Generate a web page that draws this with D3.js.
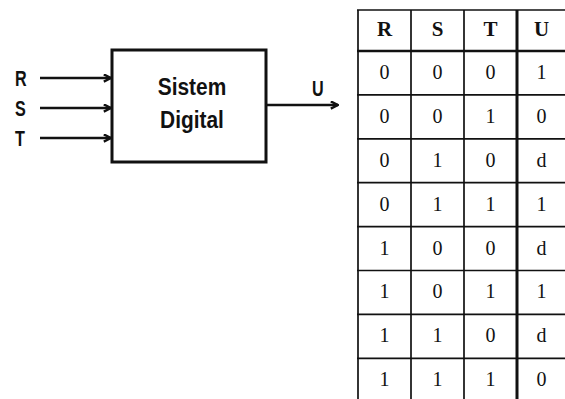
<!DOCTYPE html>
<html>
<head>
<meta charset="utf-8">
<script src="https://cdn.jsdelivr.net/npm/d3@7/dist/d3.min.js"></script>
<style>
  html, body { margin: 0; padding: 0; background: #fff; }
  svg { display: block; }
</style>
</head>
<body>
<svg id="chart" width="565" height="399"></svg>
<script>
// ---- data ----
const inputs = ["R", "S", "T"];
const outputLabel = "U";
const blockLines = ["Sistem", "Digital"];
const headers = ["R", "S", "T", "U"];
const colR = ["0", "0", "0", "0", "1", "1", "1", "1"];
const colS = ["0", "0", "1", "1", "0", "0", "1", "1"];
const colT = ["0", "1", "0", "1", "0", "1", "0", "1"];
const colU = ["1", "0", "d", "1", "d", "1", "d", "0"];

const svg = d3.select("#chart");
const ink = "#111";
const sans = "Liberation Sans, Arial, sans-serif";
const serif = "Liberation Serif, Times New Roman, serif";

// ---- block diagram ----
const box = { x0: 112, x1: 266, y0: 50, y1: 162 };
const yIn = d3.scalePoint().domain(inputs).range([78, 138]);

svg.append("defs").append("marker")
  .attr("id", "ah").attr("viewBox", "0 0 10 10")
  .attr("refX", 9).attr("refY", 5)
  .attr("markerWidth", 9).attr("markerHeight", 9)
  .attr("markerUnits", "userSpaceOnUse")
  .attr("orient", "auto")
  .append("path").attr("d", "M1,1 L9,5 L1,9").attr("fill", "none")
  .attr("stroke", ink).attr("stroke-width", 2.6);

svg.append("rect")
  .attr("x", box.x0).attr("y", box.y0)
  .attr("width", box.x1 - box.x0).attr("height", box.y1 - box.y0)
  .attr("fill", "none").attr("stroke", ink).attr("stroke-width", 3);

const gin = svg.append("g");
gin.selectAll("line").data(inputs).join("line")
  .attr("x1", 40).attr("x2", box.x0 - 1)
  .attr("y1", d => yIn(d)).attr("y2", d => yIn(d))
  .attr("stroke", ink).attr("stroke-width", 2.6)
  .attr("marker-end", "url(#ah)");
gin.selectAll("text").data(inputs).join("text")
  .attr("transform", d => `translate(15,${yIn(d) + 7.5}) scale(0.85,1.15)`)
  .attr("font-family", sans)
  .attr("font-weight", "bold").attr("font-size", 19)
  .attr("fill", ink)
  .text(d => d);

const yOut = 105;
svg.append("line")
  .attr("x1", box.x1).attr("x2", 338)
  .attr("y1", yOut).attr("y2", yOut)
  .attr("stroke", ink).attr("stroke-width", 2.6)
  .attr("marker-end", "url(#ah)");
svg.append("text")
  .attr("transform", "translate(312,95.5) scale(0.85,1.15)")
  .attr("font-family", sans)
  .attr("font-weight", "bold").attr("font-size", 19)
  .attr("fill", ink)
  .text(outputLabel);

svg.append("g").selectAll("text").data(blockLines).join("text")
  .attr("transform", (d, i) => `translate(192,${95 + i * 33}) scale(0.95,1.12)`)
  .attr("text-anchor", "middle")
  .attr("font-family", sans)
  .attr("font-weight", "bold").attr("font-size", 22)
  .attr("fill", ink)
  .text(d => d);

// ---- truth table ----
const rows = colR.map((r, i) => [r, colS[i], colT[i], colU[i]]);
const x = d3.scaleBand().domain(headers).range([358, 570]);
const yRow = d3.scaleBand().domain(d3.range(rows.length)).range([51, 51 + 8 * 43.9]);
const headTop = 10, headBot = 51;

const tg = svg.append("g");
const hLines = [headTop, headBot].concat(d3.range(1, rows.length).map(i => yRow(i)));
tg.selectAll("line.h").data(hLines).join("line").attr("class", "h")
  .attr("x1", 357).attr("x2", 565)
  .attr("y1", d => d).attr("y2", d => d)
  .attr("stroke", ink)
  .attr("stroke-width", (d, i) => i === 1 ? 2.4 : 1.7);
const vLines = headers.map(h => x(h));
tg.selectAll("line.v").data(vLines).join("line").attr("class", "v")
  .attr("x1", d => d).attr("x2", d => d)
  .attr("y1", headTop).attr("y2", 399)
  .attr("stroke", ink)
  .attr("stroke-width", (d, i) => i === 3 ? 3 : 1.7);

tg.selectAll("text.hd").data(headers).join("text").attr("class", "hd")
  .attr("x", d => x(d) + x.bandwidth() / 2 - (d === "U" ? 2 : 0))
  .attr("y", 36)
  .attr("text-anchor", "middle")
  .attr("font-family", serif)
  .attr("font-weight", "bold")
  .attr("font-size", 21)
  .attr("fill", ink)
  .text(d => d);

rows.forEach((row, i) => {
  tg.append("g").selectAll("text").data(row).join("text")
    .attr("x", (d, j) => x(headers[j]) + x.bandwidth() / 2 - (j === 3 ? 2 : 0))
    .attr("y", yRow(i) + yRow.bandwidth() / 2 + 6)
    .attr("text-anchor", "middle")
    .attr("font-family", serif)
    .attr("font-size", 20)
    .attr("fill", ink)
    .text(d => d);
});
</script>
</body>
</html>
